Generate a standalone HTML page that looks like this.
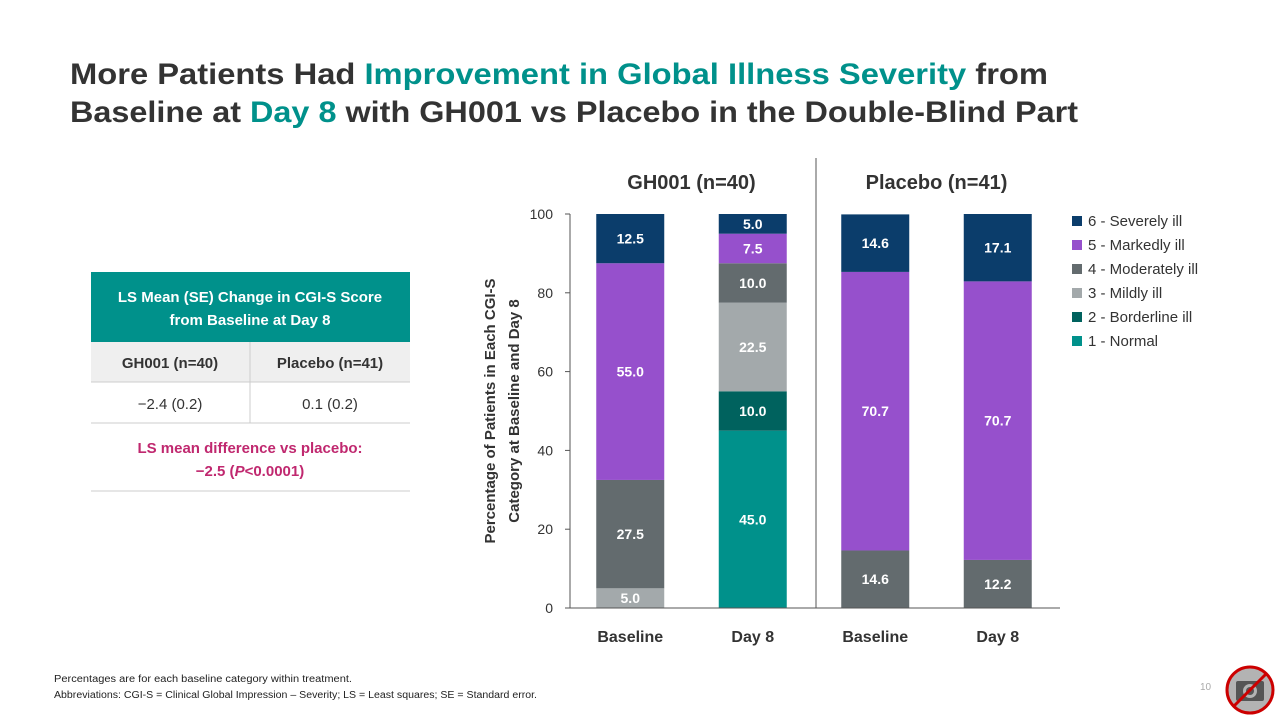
<!DOCTYPE html>
<html><head><meta charset="utf-8"><style>
body{margin:0;background:#fff;}
svg text{font-family:"Liberation Sans",sans-serif;}
</style></head><body>
<svg id="s" width="1280" height="720" viewBox="0 0 1280 720">
<g font-weight="bold" font-size="30" fill="#333">
<text x="70" y="84" textLength="978" lengthAdjust="spacingAndGlyphs">More Patients Had <tspan fill="#00918b">Improvement in Global Illness Severity</tspan> from</text>
<text x="70" y="122" textLength="1008" lengthAdjust="spacingAndGlyphs">Baseline at <tspan fill="#00918b">Day 8</tspan> with GH001 vs Placebo in the Double-Blind Part</text>
</g>
<g>
<rect x="91" y="272" width="319" height="70" fill="#00918b"/>
<text x="250" y="302" text-anchor="middle" fill="#fff" font-weight="bold" font-size="15">LS Mean (SE) Change in CGI-S Score</text>
<text x="250" y="325" text-anchor="middle" fill="#fff" font-weight="bold" font-size="15">from Baseline at Day 8</text>
<rect x="91" y="342" width="319" height="40" fill="#efefef"/>
<line x1="250" y1="342" x2="250" y2="423" stroke="#ccc"/>
<line x1="91" y1="382" x2="410" y2="382" stroke="#ccc"/>
<line x1="91" y1="423" x2="410" y2="423" stroke="#ccc"/>
<line x1="91" y1="491" x2="410" y2="491" stroke="#ccc"/>
<text x="170" y="368" text-anchor="middle" fill="#333" font-weight="bold" font-size="15">GH001 (n=40)</text>
<text x="330" y="368" text-anchor="middle" fill="#333" font-weight="bold" font-size="15">Placebo (n=41)</text>
<text x="170" y="409" text-anchor="middle" fill="#333" font-size="15">−2.4 (0.2)</text>
<text x="330" y="409" text-anchor="middle" fill="#333" font-size="15">0.1 (0.2)</text>
<text x="250" y="453" text-anchor="middle" fill="#c0286f" font-weight="bold" font-size="15">LS mean difference vs placebo:</text>
<text x="250" y="476" text-anchor="middle" fill="#c0286f" font-weight="bold" font-size="15">−2.5 (<tspan font-style="italic">P</tspan>&lt;0.0001)</text>
</g>
<g id="chart"></g>
<g font-size="10" fill="#222">
<text x="54" y="682" textLength="298" lengthAdjust="spacingAndGlyphs">Percentages are for each baseline category within treatment.</text>
<text x="54" y="698" textLength="483" lengthAdjust="spacingAndGlyphs">Abbreviations: CGI-S = Clinical Global Impression – Severity; LS = Least squares; SE = Standard error.</text>
</g>
<text x="1200" y="690" font-size="10" fill="#aaa">10</text>
<g>
<circle cx="1250" cy="690" r="23" fill="#b3b3b3" stroke="#c00" stroke-width="3"/>
<rect x="1236" y="681" width="28" height="20" rx="2" fill="#555"/>
<circle cx="1250" cy="691" r="7" fill="#b3b3b3"/><circle cx="1250" cy="691" r="4" fill="#555"/>
<line x1="1234" y1="706" x2="1266" y2="674" stroke="#c00" stroke-width="3"/>
</g>
</svg>
<script>
const categories=["Baseline","Day 8","Baseline","Day 8"];
const normal=[0,45,0,0];
const borderline=[0,10,0,0];
const mild=[5,22.5,0,0];
const moderate=[27.5,10,14.6,12.2];
const marked=[55,7.5,70.7,70.7];
const severe=[12.5,5,14.6,17.1];
const seriesNames=["1 - Normal","2 - Borderline ill","3 - Mildly ill","4 - Moderately ill","5 - Markedly ill","6 - Severely ill"];
const yTicks=[0,20,40,60,80,100];
const groupTitles=["GH001 (n=40)","Placebo (n=41)"];

const NS="http://www.w3.org/2000/svg";
const g=document.getElementById('chart');
const series=[normal,borderline,mild,moderate,marked,severe];
const colors=["#00918b","#00625e","#a3a9ab","#636b6e","#9650cc","#0b3d6b"];
const x0=570,x1=1060,yb=608,yt=214;
const y=v=>yb-(v/100)*(yb-yt);
const slot=(x1-x0)/categories.length;
const cx=i=>x0+slot*(i+0.5)-1;
const bw=68;
function el(t,a,txt){const e=document.createElementNS(NS,t);for(const k in a)e.setAttribute(k,a[k]);if(txt!=null)e.textContent=txt;g.appendChild(e);return e;}
yTicks.forEach(t=>{
 const tl=el('text',{x:553,y:y(t)+5,'text-anchor':'end','font-size':14,fill:'#333'},t);
 
 
 el('line',{x1:x0-5,y1:y(t),x2:x0,y2:y(t),stroke:'#555'});
});
categories.forEach((c,i)=>{
 let acc=0;
 series.forEach((s,k)=>{
  const v=s[i];
  if(v>0){
   const r=el('rect',{x:cx(i)-bw/2,y:y(acc+v),width:bw,height:y(acc)-y(acc+v),fill:colors[k]});
   
   
   const t=el('text',{x:cx(i),y:(y(acc)+y(acc+v))/2+5,'text-anchor':'middle','font-size':14,'font-weight':'bold',fill:'#fff'},v.toFixed(1));
   
   
  }
  acc+=v;
 });
 const xl=el('text',{x:cx(i),y:642,'text-anchor':'middle','font-size':16,'font-weight':'bold',fill:'#333'},c);
 
 
});
el('line',{x1:x0,y1:yt,x2:x0,y2:yb,stroke:'#555'});
el('line',{x1:x0,y1:yb,x2:x1,y2:yb,stroke:'#555'});
el('line',{x1:816,y1:158,x2:816,y2:yb,stroke:'#555'});
groupTitles.forEach((t,i)=>{
 const e=el('text',{x:(cx(i*2)+cx(i*2+1))/2,y:189,'text-anchor':'middle','font-size':20,'font-weight':'bold',fill:'#333'},t);
 
 
});
const yt1=el('text',{transform:'translate(495,411) rotate(-90)','text-anchor':'middle','font-size':15,'font-weight':'bold',fill:'#333'},'Percentage of Patients in Each CGI-S');


const yt2=el('text',{transform:'translate(519,411) rotate(-90)','text-anchor':'middle','font-size':15,'font-weight':'bold',fill:'#333'},'Category at Baseline and Day 8');


for(let k=5;k>=0;k--){
 const row=5-k, ly=221+row*24;
 const sw=el('rect',{x:1072,y:ly-5,width:10,height:10,fill:colors[k]});
 
 
 const lt=el('text',{x:1088,y:ly+5,'font-size':15,fill:'#333'},seriesNames[k]);
 
 
}
</script>
</body></html>
